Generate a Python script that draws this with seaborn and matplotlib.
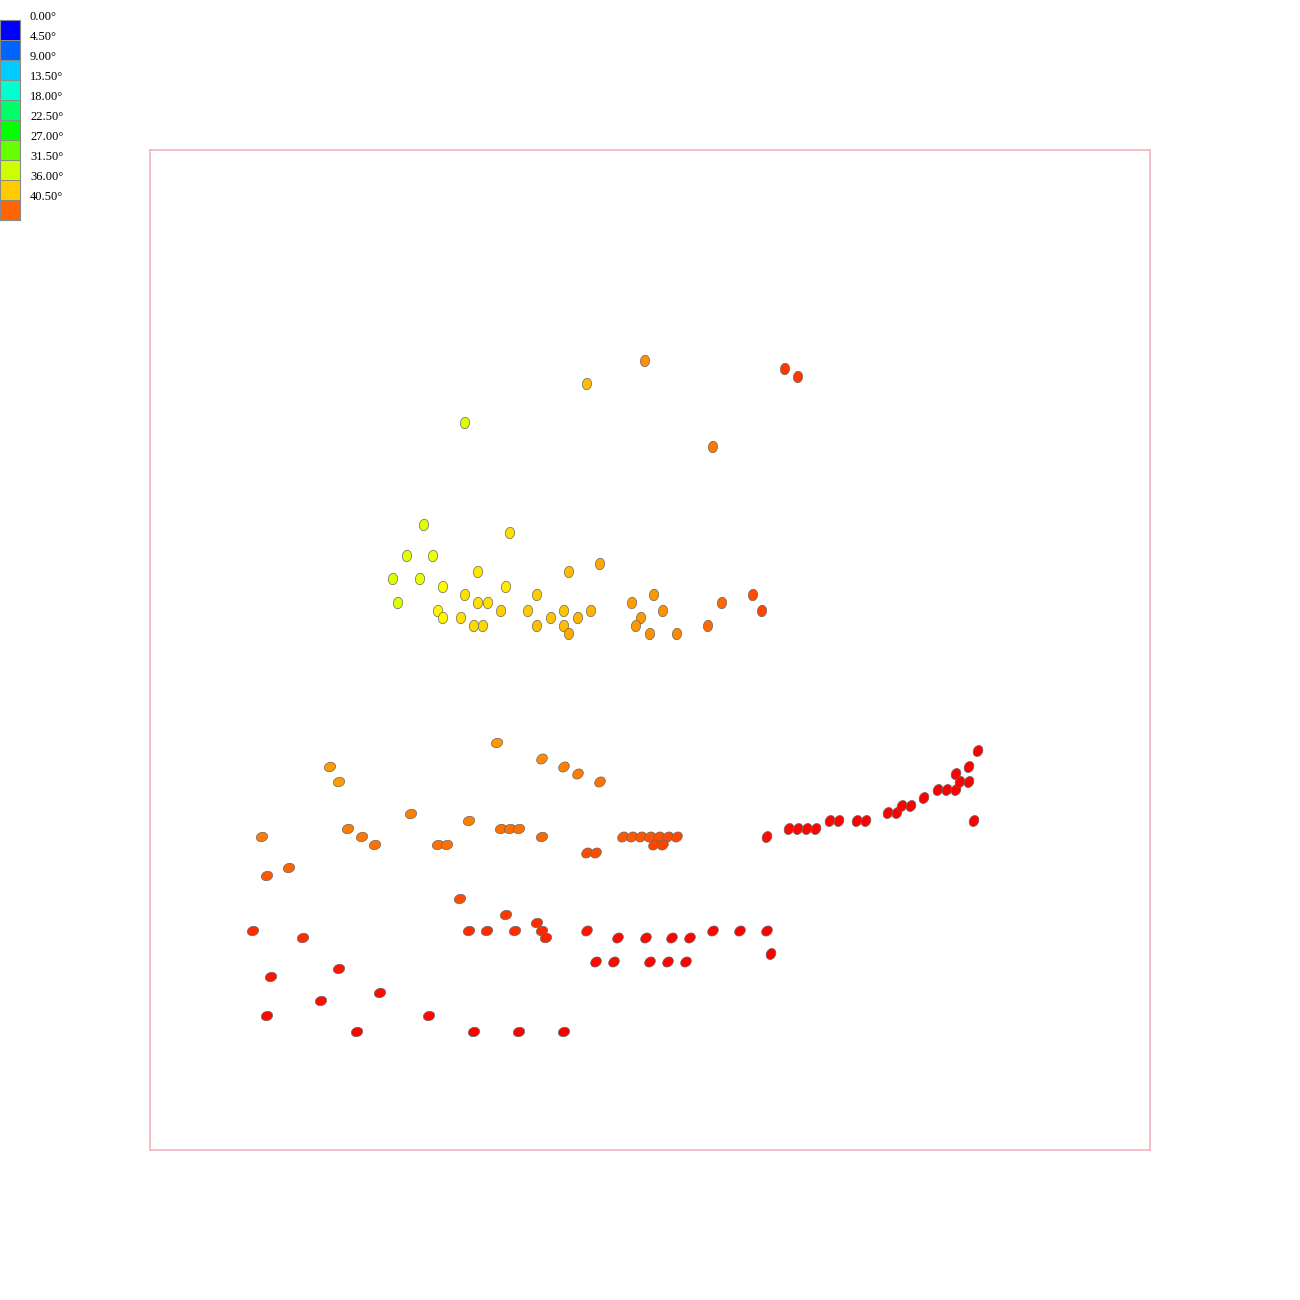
import numpy as np
import pandas as pd
import matplotlib.pyplot as plt
from matplotlib.colors import ListedColormap, hsv_to_rgb
from matplotlib.path import Path
import seaborn as sns

# colour scale: hue runs from blue (0 deg) down to red (45 deg)
legend_values = [0.0, 4.5, 9.0, 13.5, 18.0, 22.5, 27.0, 31.5, 36.0, 40.5]
hues = np.linspace(2 / 3, 0, 256)
cmap = ListedColormap(hsv_to_rgb(np.column_stack([hues, np.ones(256), np.ones(256)])))

# upper cluster
upper_x = [49.5, 43.7, 31.5, 56.3, 63.5, 64.8, 27.4, 36.0, 25.7, 28.3, 32.8, 24.3,
           27.0, 29.3, 35.6, 41.9, 45.0, 31.5, 38.7, 24.8, 32.8, 33.8, 28.8, 35.1,
           37.8, 41.4, 44.1, 29.3, 31.1, 40.1, 42.8, 32.4, 33.3, 38.7, 41.4, 41.9,
           48.2, 50.4, 51.3, 49.1, 48.6, 50.0, 52.7, 57.2, 60.3, 61.2, 55.8]
upper_y = [78.9, 76.6, 72.7, 70.3, 78.1, 77.3, 62.5, 61.7, 59.4, 59.4, 57.8, 57.1,
           57.1, 56.3, 56.3, 57.8, 58.6, 55.5, 55.5, 54.7, 54.7, 54.7, 53.9, 53.9,
           53.9, 53.9, 53.9, 53.2, 53.2, 53.2, 53.2, 52.4, 52.4, 52.4, 52.4, 51.6,
           54.7, 55.5, 53.9, 53.2, 52.4, 51.6, 51.6, 54.7, 55.5, 53.9, 52.4]
upper_v = [38.5, 36.6, 32.2, 39.7, 42.4, 42.4, 32.5, 35.0, 32.5, 33.0, 34.7, 32.3,
           32.8, 33.8, 34.5, 36.6, 37.5, 35.0, 36.0, 32.3, 35.0, 35.0, 34.0, 35.7,
           36.0, 36.3, 37.0, 34.0, 35.0, 36.3, 37.0, 35.5, 35.5, 36.5, 36.7, 37.3,
           38.0, 38.2, 38.5, 38.2, 38.2, 38.5, 39.0, 40.3, 41.5, 42.0, 40.3]

# lower left, flat ellipses
flat_x = [34.7, 18.0, 18.9, 26.1, 31.9, 35.1, 36.0, 36.9, 11.2, 19.8, 21.2, 22.5,
          28.8, 29.7, 13.9, 11.7, 39.2,
          31.0, 10.3, 15.3, 31.9, 33.7, 35.6, 36.5, 38.7, 39.2, 39.6, 12.1, 18.9,
          17.1, 23.0, 11.7, 20.7, 27.9, 32.4, 36.9, 41.4]
flat_y = [40.7, 38.3, 36.8, 33.6, 32.9, 32.1, 32.1, 32.1, 31.3, 32.1, 31.3, 30.5,
          30.5, 30.5, 28.2, 27.4, 31.3,
          25.1, 21.9, 21.2, 21.9, 21.9, 23.5, 21.9, 22.7, 21.9, 21.2, 17.3, 18.1,
          14.9, 15.7, 13.4, 11.8, 13.4, 11.8, 11.8, 11.8]
flat_v = [38.3, 38.0, 38.0, 39.2, 39.2, 40.0, 40.0, 40.0, 39.5, 39.5, 39.7, 40.0,
          40.0, 40.0, 40.5, 41.0, 40.3,
          41.5, 43.0, 43.0, 43.0, 43.0, 42.5, 43.0, 43.0, 43.2, 43.5, 44.0, 44.0,
          44.3, 44.3, 44.5, 44.7, 44.6, 45.0, 45.0, 45.0]

# middle, diagonal ellipses
diag_x = [39.2, 41.4, 42.8, 45.0, 43.7, 44.6, 47.3, 48.2, 49.1, 50.0, 50.9, 51.8,
          52.7, 50.4, 51.3,
          43.7, 46.8, 49.6, 52.2, 54.0, 56.3, 59.0, 61.7, 44.6, 46.4, 50.0, 51.8, 53.6]
diag_y = [39.1, 38.3, 37.6, 36.8, 29.7, 29.7, 31.3, 31.3, 31.3, 31.3, 31.3, 31.3,
          31.3, 30.5, 30.5,
          21.9, 21.2, 21.2, 21.2, 21.2, 21.9, 21.9, 21.9, 18.8, 18.8, 18.8, 18.8, 18.8]
diag_v = [38.8, 39.2, 39.5, 39.8, 41.5, 41.5, 41.0, 41.0, 41.2, 41.2, 41.4, 41.5,
          41.7, 42.0, 42.0,
          44.0, 44.5, 44.6, 44.7, 44.8, 44.8, 44.9, 45.0, 44.5, 44.6, 44.7, 44.8, 44.9]

# lower right, steep ellipses
steep_x = [61.7, 63.9, 64.8, 65.7, 66.6, 68.0, 68.9, 70.7, 71.6, 73.8, 74.7, 75.2,
           76.1, 77.4, 78.8, 79.7, 80.6, 80.6, 81.0, 81.9, 81.9, 82.8, 82.4, 62.1]
steep_y = [31.3, 32.1, 32.1, 32.1, 32.1, 32.9, 32.9, 32.9, 32.9, 33.7, 33.7, 34.4,
           34.4, 35.2, 36.0, 36.0, 36.0, 37.6, 36.8, 36.8, 38.3, 39.9, 32.9, 19.6]
steep_v = [44.3, 44.6, 44.6, 44.7, 44.7, 44.8, 44.8, 44.9, 44.9, 45.0, 45.0, 45.0,
           45.0, 45.0, 45.0, 45.0, 45.0, 45.0, 45.0, 45.0, 45.0, 45.0, 45.0, 45.0]

df = pd.concat([
    pd.DataFrame({'x': upper_x, 'y': upper_y, 'angle': upper_v, 'shape': 'up'}),
    pd.DataFrame({'x': flat_x, 'y': flat_y, 'angle': flat_v, 'shape': 'flat'}),
    pd.DataFrame({'x': diag_x, 'y': diag_y, 'angle': diag_v, 'shape': 'diag'}),
    pd.DataFrame({'x': steep_x, 'y': steep_y, 'angle': steep_v, 'shape': 'steep'}),
], ignore_index=True)


def ellipse_marker(rot_deg, a=1.0, b=0.8):
    t = np.linspace(0, 2 * np.pi, 40)
    r = np.deg2rad(rot_deg)
    ex = a * np.cos(t) * np.cos(r) - b * np.sin(t) * np.sin(r)
    ey = a * np.cos(t) * np.sin(r) + b * np.sin(t) * np.cos(r)
    # dummy first vertex keeps every marker scaled the same way
    verts = [(a, a)] + list(zip(ex, ey))
    codes = [Path.MOVETO, Path.MOVETO] + [Path.LINETO] * (len(t) - 2) + [Path.CLOSEPOLY]
    return Path(verts, codes)


markers = {'up': ellipse_marker(82), 'flat': ellipse_marker(18),
           'diag': ellipse_marker(38), 'steep': ellipse_marker(62)}

fig = plt.figure(figsize=(13, 13), dpi=100)
ax = fig.add_axes([150 / 1300, 150 / 1300, 1000 / 1300, 1000 / 1300])
sns.scatterplot(data=df, x='x', y='y', hue='angle', palette=cmap, hue_norm=(0, 45),
                style='shape', markers=markers, s=68, edgecolor='#666666',
                linewidth=0.5, legend=False, ax=ax)
ax.set_xlim(0, 100)
ax.set_ylim(0, 100)
ax.set_xticks([])
ax.set_yticks([])
ax.set_xlabel('')
ax.set_ylabel('')
for sp in ax.spines.values():
    sp.set_color('#f4b4bd')
    sp.set_linewidth(1.2)

# colour legend in the top left corner
cax = fig.add_axes([0, 1 - 220 / 1300, 20 / 1300, 200 / 1300])
sns.heatmap(np.array(legend_values).reshape(-1, 1), cmap=cmap, vmin=0, vmax=45,
            cbar=False, linewidths=0.6, linecolor='#8a8a8a',
            xticklabels=False, yticklabels=False, ax=cax)
for sp in cax.spines.values():
    sp.set_visible(True)
    sp.set_color('#8a8a8a')
    sp.set_linewidth(0.8)
for i, v in enumerate(legend_values):
    fig.text(30 / 1300, 1 - (17 + 20 * i) / 1300, f"{v:.2f}°", fontsize=9,
             family=['Liberation Serif', 'DejaVu Serif'], va='center', ha='left')

plt.savefig('out.png', dpi=100)
